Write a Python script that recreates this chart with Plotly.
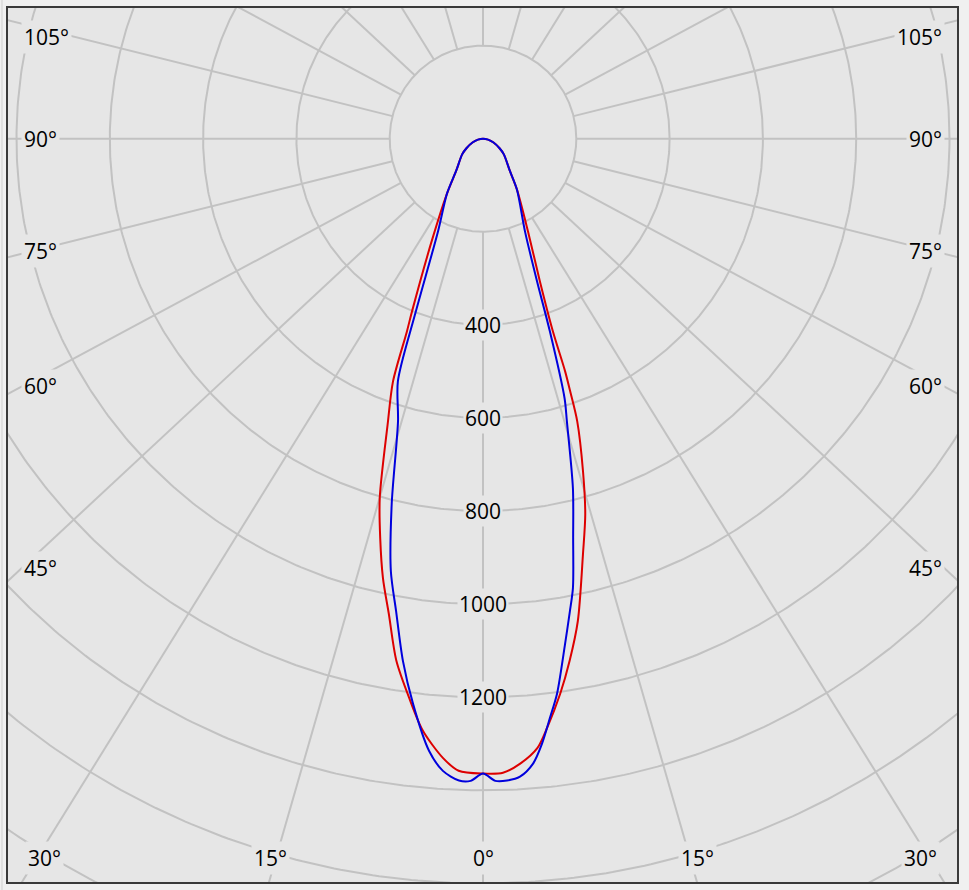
import math
import numpy as np
import plotly.graph_objects as go

# ---------------- data ----------------
# gamma angle in degrees (0 = straight down, negative = left half), intensity in cd
red_gamma = [-90, -80, -70, -60, -53, -40, -33.2, -26.8, -22.3, -21.5, -20.3, -18.4, -16.0, -14.4,
             -12.8, -11.2, -9.4, -7.5, -5.8, -3.7, -2.2, 0,
             1.8, 3.4, 5.1, 6.2, 7.9, 9.4, 11.1, 13.5, 15.2, 16.7, 18.4, 19.0, 19.4, 19.9, 21.7,
             25.8, 33.7, 40, 53, 60, 70, 80, 90]
red_cd = [0, 11, 24, 41, 56, 89, 141, 240, 401, 445, 556, 648, 803, 886,
          968, 1040, 1137, 1212, 1278, 1333, 1359, 1364,
          1363, 1345, 1314, 1273, 1204, 1137, 1056, 918, 836, 746, 640, 574, 530, 440, 330,
          222, 131, 89, 56, 41, 24, 11, 0]

blue_gamma = [-90, -80, -70, -60, -53, -40, -33.2, -25.8, -21.1, -19.3, -16.7, -14.0, -12.0,
              -10.4, -8.7, -7.05, -5.03, -3.62, -2.14, -1.1, 0,
              1.1, 2.14, 3.31, 4.57, 5.56, 6.59, 7.58, 9.2, 10.4, 11.3, 12.7, 14.4, 16.5,
              17.4, 19.1, 20.7, 24.3, 33.7, 40, 53, 60, 70, 80, 90]
blue_cd = [0, 11, 24, 41, 56, 89, 141, 222, 405, 552, 634, 809, 950,
           1032, 1135, 1223, 1320, 1361, 1380, 1380, 1364,
           1380, 1380, 1373, 1347, 1306, 1252, 1203, 1100, 1032, 984, 879, 775, 633,
           585, 438, 328, 219, 131, 89, 56, 41, 24, 11, 0]

ring_values = [200, 400, 600, 800, 1000, 1200, 1400, 1600, 1800, 2000]
ring_labels = [400, 600, 800, 1000, 1200]
spoke_angles = list(range(0, 360, 15))
angle_labels = ["105°", "90°", "75°", "60°", "45°", "30°", "15°", "0°"]

# ---------------- layout constants (pixels of the 969x890 page) ----------------
W, H = 969, 890
PX_L, PX_R, PX_T, PX_B = 8, 957, 6, 882     # plot frame
CX, CY = 483, 137                            # pole of the diagram
S = 0.4665                                   # pixels per cd
K = 0.933                                    # angular squash of the spokes

BG = "#e6e6e6"
GRID = "#c2c2c2"
FONT = "Open Sans"
FSIZE = 21
FCOL = "#000000"


def to_xy(gamma_deg, cd):
    g = np.radians(np.asarray(gamma_deg, dtype=float))
    r = np.asarray(cd, dtype=float)
    return r * np.sin(g), -r * np.cos(g)


def px_to_data(px, py):
    return (px - CX) / S, (CY - py) / S


fig = go.Figure()

# circles
t = np.linspace(0, 2 * np.pi, 721)
cx, cy = [], []
for rv in ring_values:
    cx += list(rv * np.cos(t)) + [None]
    cy += list(rv * np.sin(t)) + [None]
fig.add_trace(go.Scatter(x=cx, y=cy, mode="lines", line=dict(color=GRID, width=2),
                         hoverinfo="skip", showlegend=False))

# spokes (from the first circle outward)
sx, sy = [], []
for a in spoke_angles:
    ar = math.radians(a)
    phi = math.atan2(math.sin(ar), K * math.cos(ar))
    r0, r1 = ring_values[0], 4000
    sx += [r0 * math.sin(phi), r1 * math.sin(phi), None]
    sy += [-r0 * math.cos(phi), -r1 * math.cos(phi), None]
fig.add_trace(go.Scatter(x=sx, y=sy, mode="lines", line=dict(color=GRID, width=2),
                         hoverinfo="skip", showlegend=False))

# intensity curves
rx, ry = to_xy(red_gamma, red_cd)
fig.add_trace(go.Scatter(x=rx, y=ry, mode="lines",
                         line=dict(color="#dd0000", width=2, shape="spline", smoothing=0.8),
                         hoverinfo="skip", showlegend=False))
bx, by = to_xy(blue_gamma, blue_cd)
fig.add_trace(go.Scatter(x=bx, y=by, mode="lines",
                         line=dict(color="#0000dd", width=2, shape="spline", smoothing=0.8),
                         hoverinfo="skip", showlegend=False))

annotations = []
lab_font = dict(family=FONT, size=FSIZE, color=FCOL)
# radial value labels on the 0° axis
for v in ring_labels:
    annotations.append(dict(x=0, y=-v, xref="x", yref="y", text=str(v), showarrow=False,
                            font=lab_font, bgcolor=BG, borderpad=1,
                            xanchor="center", yanchor="middle"))

# angle labels along the frame
left_pos = [(21, 35), (21, 137), (21, 250), (21, 385), (21, 567), (25, 858)]
right_x = [945, 945, 945, 945, 945, 940]
for lab, (px, py), rxp in zip(angle_labels[:6], left_pos, right_x):
    x, y = px_to_data(px, py)
    annotations.append(dict(x=x, y=y, xref="x", yref="y", text=lab, showarrow=False,
                            font=lab_font, bgcolor=BG, borderpad=2,
                            xanchor="left", yanchor="middle"))
    x2, _ = px_to_data(rxp, py)
    annotations.append(dict(x=x2, y=y, xref="x", yref="y", text=lab, showarrow=False,
                            font=lab_font, bgcolor=BG, borderpad=2,
                            xanchor="right", yanchor="middle"))
for lab, px in [("15°", 270), ("0°", 483), ("15°", 697)]:
    x, y = px_to_data(px, 858)
    annotations.append(dict(x=x, y=y, xref="x", yref="y", text=lab, showarrow=False,
                            font=lab_font, bgcolor=BG, borderpad=2,
                            xanchor="center", yanchor="middle"))

x0, y1 = px_to_data(PX_L, PX_T)
x1, y0 = px_to_data(PX_R, PX_B)

fig.update_layout(
    width=W, height=H, autosize=False,
    margin=dict(l=PX_L, r=W - PX_R, t=PX_T, b=H - PX_B, pad=0),
    paper_bgcolor="#f0f0f0", plot_bgcolor=BG,
    annotations=annotations,
    shapes=[dict(type="line", xref="paper", yref="paper",
                 x0=(2 - PX_L) / (PX_R - PX_L), x1=(2 - PX_L) / (PX_R - PX_L),
                 y0=-0.02, y1=1.02, line=dict(color="#cfcfcf", width=1))],
    xaxis=dict(range=[x0, x1], showgrid=False, zeroline=False, showticklabels=False, ticks="",
               showline=True, mirror=True, linecolor="#3a3a3a", linewidth=2, fixedrange=True),
    yaxis=dict(range=[y0, y1], showgrid=False, zeroline=False, showticklabels=False, ticks="",
               showline=True, mirror=True, linecolor="#3a3a3a", linewidth=2, fixedrange=True),
    showlegend=False,
)

fig.write_html("out.html", config={"displayModeBar": False},
               post_script="document.body.style.margin='0';document.body.style.overflow='hidden';")
